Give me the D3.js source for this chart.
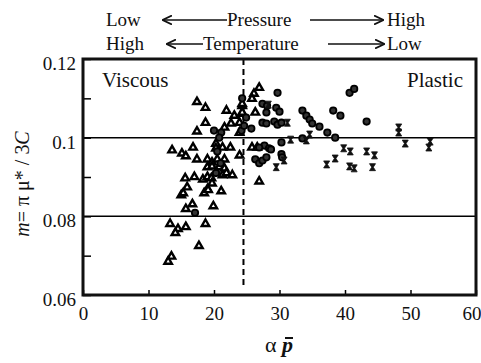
<!DOCTYPE html>
<html>
<head>
<meta charset="utf-8">
<script src="https://cdn.jsdelivr.net/npm/d3@7"></script>
<style>
  body { margin: 0; background: #fff; }
  svg text { font-family: 'Liberation Serif', 'DejaVu Serif', serif; }
</style>
</head>
<body>
<div id="host"></div>
<script>
// data: [alpha*p, m]
const viscousTriangles = [
  [17.4,0.1091],[18.7,0.1076],[18.7,0.1038],[17.4,0.1016],[21.9,0.1069],[23.1,0.1056],
  [24.3,0.1081],[24.3,0.1061],[22.6,0.1036],[23.9,0.1038],[21.6,0.1026],[23.9,0.1013],
  [13.6,0.0968],[15.1,0.0960],[15.7,0.0953],[16.8,0.0975],[17.4,0.0945],[20.3,0.0985],
  [20.3,0.0973],[21.3,0.0975],[22.5,0.0975],[23.9,0.0955],[19.0,0.0945],[19.7,0.0937],
  [20.5,0.0945],[21.6,0.0945],[19.0,0.0925],[19.7,0.0927],[20.8,0.0925],[21.6,0.0922],
  [21.3,0.0905],[21.9,0.0910],[22.8,0.0905],[15.6,0.0897],[17.0,0.0900],[18.3,0.0894],
  [19.0,0.0900],[19.6,0.0897],[15.9,0.0874],[19.7,0.0884],[19.0,0.0869],[21.1,0.0864],
  [15.0,0.0854],[15.3,0.0859],[18.5,0.0859],[19.1,0.0867],[16.7,0.0831],[15.7,0.0819],
  [19.9,0.0826],[13.3,0.0781],[14.5,0.0768],[14.1,0.0758],[15.7,0.0773],[18.7,0.0781],
  [17.7,0.0725],[13.5,0.0698],[13.0,0.0685],[26.9,0.0889],[26.9,0.1127],[26.1,0.1112],
  [25.8,0.1099],[24.3,0.1086],[26.3,0.1064],[24.3,0.1064],[25.8,0.0975],[26.6,0.0975]
];
const filledCircles = [
  [29.7,0.1114],[27.4,0.1086],[28.1,0.1081],[28.0,0.1064],[29.5,0.1076],[30.0,0.1066],
  [27.4,0.1038],[28.0,0.1036],[29.2,0.1041],[29.7,0.1033],[30.3,0.1038],[25.7,0.1023],
  [24.9,0.1051],[24.2,0.1018],[33.5,0.1069],[34.1,0.1056],[34.6,0.1046],[35.0,0.1036],
  [36.1,0.1028],[37.3,0.1013],[38.5,0.1000],[38.2,0.1069],[39.3,0.1056],[40.7,0.1114],
  [41.4,0.1124],[43.3,0.1041],[33.5,0.0998],[30.3,0.0988],[30.3,0.0958],[30.4,0.0950],
  [26.3,0.0945],[26.9,0.0935],[27.4,0.0942],[28.0,0.0950],[27.7,0.0980],[28.4,0.0973],
  [26.9,0.0975],[28.7,0.0970],[20.0,0.1018],[21.1,0.1013],[20.8,0.1000],[17.1,0.0809],
  [20.5,0.0965],[21.0,0.0935],[20.3,0.0910],[24.3,0.1100],[24.6,0.1030]
];
const crosses = [
  [31.2,0.1038],[31.7,0.0995],[34.1,0.0993],[34.6,0.1008],[29.5,0.0925],[30.7,0.0942],
  [37.2,0.0932],[38.5,0.0947],[39.8,0.0973],[40.8,0.0965],[40.7,0.0927],[41.4,0.0922],
  [43.3,0.0965],[44.5,0.0955],[44.2,0.0925],[48.2,0.1026],[48.2,0.1013],[49.2,0.0985],
  [52.8,0.0975],[53.0,0.0990],[28.3,0.1084]
];
const xTicks = [0, 10, 20, 30, 40, 50, 60];
const yTicks = [0.06, 0.07, 0.08, 0.09, 0.10, 0.11, 0.12];
const yTickLabels = ['0.06', '', '0.08', '', '0.1', '', '0.12'];
const refLines = [0.1, 0.08];
const boundaryX = 24.5;

const width = 481, height = 363;
const svg = d3.select('#host').append('svg')
  .attr('width', width).attr('height', height);

const x = d3.scaleLinear().domain([0, 60]).range([83, 476]);
const y = d3.scaleLinear().domain([0.06, 0.12]).range([295, 59]);

// reference lines
svg.selectAll('line.ref').data(refLines).join('line')
  .attr('x1', x(0)).attr('x2', x(60))
  .attr('y1', d => y(d)).attr('y2', d => y(d))
  .attr('stroke', '#000').attr('stroke-width', 1.5);

// viscous / plastic boundary
svg.append('line')
  .attr('x1', x(boundaryX)).attr('x2', x(boundaryX))
  .attr('y1', y(0.12)).attr('y2', y(0.0622))
  .attr('stroke', '#000').attr('stroke-width', 2)
  .attr('stroke-dasharray', '6,4');

// axes with inward ticks
const xAxis = svg.append('g').attr('transform', `translate(0,${y(0.06)})`)
  .call(d3.axisBottom(x).tickValues(xTicks).tickSize(-5).tickPadding(12).tickFormat(d3.format('d')));
xAxis.select('.domain').remove();
xAxis.selectAll('text').attr('font-size', 19).attr('fill', '#111');
// last label sits against the right edge, as in the original
xAxis.selectAll('text').filter(d => d === 60).attr('text-anchor', 'end').attr('x', 5);
xAxis.selectAll('line').attr('stroke-width', 1.5);

const yAxis = svg.append('g').attr('transform', `translate(${x(0)},0)`)
  .call(d3.axisLeft(y).tickValues(yTicks).tickSize(-8).tickPadding(7)
    .tickFormat((d, i) => yTickLabels[i]));
yAxis.select('.domain').remove();
yAxis.selectAll('text').attr('font-size', 19).attr('fill', '#111').attr('dy', '0.55em');
yAxis.selectAll('line').attr('stroke-width', 1.5);

// frame
svg.append('rect')
  .attr('x', x(0)).attr('y', y(0.12))
  .attr('width', x(60) - x(0)).attr('height', y(0.06) - y(0.12))
  .attr('fill', 'none').attr('stroke', '#111').attr('stroke-width', 3);

// markers
const tri = d3.symbol().type(d3.symbolTriangle).size(24);
svg.append('g').selectAll('path').data(viscousTriangles).join('path')
  .attr('d', tri)
  .attr('transform', d => `translate(${x(d[0])},${y(d[1])})`)
  .attr('fill', '#fff').attr('stroke', '#000').attr('stroke-width', 2.4);

svg.append('g').selectAll('circle').data(filledCircles).join('circle')
  .attr('cx', d => x(d[0])).attr('cy', d => y(d[1])).attr('r', 3.2)
  .attr('fill', '#333').attr('stroke', '#000').attr('stroke-width', 1.8);

const hourglass = 'M-3,-3.5L3,-3.5L0.8,0L3,3.5L-3,3.5L-0.8,0Z';
svg.append('g').selectAll('path').data(crosses).join('path')
  .attr('d', hourglass)
  .attr('transform', d => `translate(${x(d[0])},${y(d[1])})`)
  .attr('fill', '#111').attr('stroke', '#111').attr('stroke-width', 0.8);

// region labels
svg.append('text').attr('x', 102).attr('y', 87)
  .attr('font-size', 21).attr('fill', '#111').text('Viscous');
svg.append('text').attr('x', 463).attr('y', 87).attr('text-anchor', 'end')
  .attr('font-size', 21).attr('fill', '#111').text('Plastic');

// header rows with arrows
svg.append('defs').append('marker')
  .attr('id', 'ah').attr('viewBox', '0 0 10 10').attr('refX', 9).attr('refY', 5)
  .attr('markerWidth', 10).attr('markerHeight', 10).attr('markerUnits', 'userSpaceOnUse')
  .attr('orient', 'auto-start-reverse')
  .append('path').attr('d', 'M0,0.5L9.5,5L0,9.5').attr('fill', 'none')
  .attr('stroke', '#111').attr('stroke-width', 1.8);

const header = [
  { y: 26, left: 'Low', mid: 'Pressure', right: 'High', a1: [163, 227], a2: [310, 383], mx: 227 },
  { y: 50, left: 'High', mid: 'Temperature', right: 'Low', a1: [167, 203], a2: [328, 384], mx: 203 }
];
header.forEach(h => {
  svg.append('text').attr('x', 106).attr('y', h.y).attr('font-size', 19).attr('fill', '#111').text(h.left);
  svg.append('text').attr('x', h.mx).attr('y', h.y).attr('font-size', 19).attr('fill', '#111').text(h.mid);
  svg.append('text').attr('x', 387).attr('y', h.y).attr('font-size', 19).attr('fill', '#111').text(h.right);
  svg.append('line').attr('x1', h.a1[1]).attr('x2', h.a1[0]).attr('y1', h.y - 6).attr('y2', h.y - 6)
    .attr('stroke', '#111').attr('stroke-width', 1.4).attr('marker-end', 'url(#ah)');
  svg.append('line').attr('x1', h.a2[0]).attr('x2', h.a2[1]).attr('y1', h.y - 6).attr('y2', h.y - 6)
    .attr('stroke', '#111').attr('stroke-width', 1.4).attr('marker-end', 'url(#ah)');
});

// axis titles
const xt = svg.append('text').attr('x', 279).attr('y', 352).attr('text-anchor', 'middle')
  .attr('font-size', 22).attr('fill', '#111');
xt.append('tspan').text('α ');
xt.append('tspan').attr('font-style', 'italic').attr('font-weight', 'bold').text('p');
svg.append('line').attr('x1', 285).attr('x2', 293).attr('y1', 338).attr('y2', 338)
  .attr('stroke', '#111').attr('stroke-width', 2);

const yt = svg.append('text')
  .attr('transform', 'translate(29,184) rotate(-90)')
  .attr('text-anchor', 'middle').attr('font-size', 20).attr('fill', '#111');
yt.append('tspan').attr('font-style', 'italic').text('m');
yt.append('tspan').text('= π μ* / 3');
yt.append('tspan').attr('font-style', 'italic').text('C');
</script>
</body>
</html>
